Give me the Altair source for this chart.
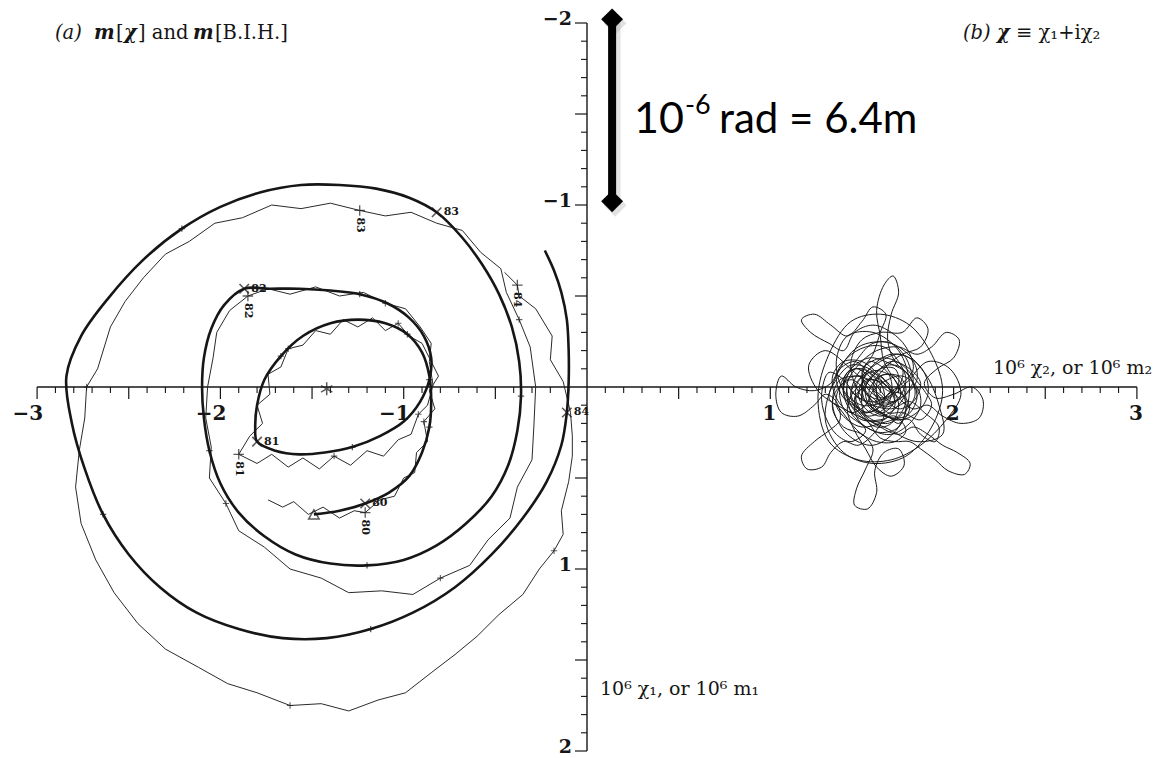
import altair as alt
import pandas as pd

INK = "#161616"

# ---------------------------------------------------------------- data
# m[chi]: heavy track, (10^6 m2, 10^6 m1) pairs in drawing order
thick_track = [
    (-1.49, 0.70), (-1.35, 0.68), (-1.21, 0.64), (-1.08, 0.58), (-0.97, 0.49),
    (-0.90, 0.36), (-0.86, 0.22), (-0.85, 0.08), (-0.86, -0.06), (-0.90, -0.19),
    (-0.98, -0.29), (-1.10, -0.35), (-1.25, -0.37), (-1.40, -0.35), (-1.55, -0.28),
    (-1.67, -0.17), (-1.76, -0.04), (-1.80, 0.10), (-1.81, 0.22), (-1.80, 0.30),
    (-1.70, 0.35), (-1.57, 0.37), (-1.43, 0.36), (-1.28, 0.33), (-1.13, 0.27),
    (-1.00, 0.19), (-0.91, 0.08), (-0.86, -0.04), (-0.85, -0.16), (-0.89, -0.28),
    (-0.97, -0.38), (-1.09, -0.46), (-1.24, -0.51), (-1.40, -0.53), (-1.57, -0.54),
    (-1.73, -0.54), (-1.87, -0.54), (-1.98, -0.45), (-2.05, -0.32), (-2.09, -0.16),
    (-2.10, 0.00), (-2.09, 0.17), (-2.06, 0.35), (-2.00, 0.53), (-1.90, 0.69),
    (-1.76, 0.82), (-1.59, 0.92), (-1.40, 0.97), (-1.20, 0.98), (-1.00, 0.95),
    (-0.82, 0.87), (-0.66, 0.75), (-0.52, 0.60), (-0.43, 0.43), (-0.38, 0.24),
    (-0.36, 0.05), (-0.37, -0.14), (-0.41, -0.33), (-0.48, -0.51), (-0.57, -0.67),
    (-0.68, -0.82), (-0.82, -0.96), (-0.97, -1.04), (-1.15, -1.09), (-1.35, -1.11),
    (-1.56, -1.11), (-1.78, -1.07), (-2.00, -0.99), (-2.21, -0.87), (-2.42, -0.70),
    (-2.61, -0.49), (-2.76, -0.28), (-2.84, -0.06), (-2.81, 0.20), (-2.74, 0.45),
    (-2.64, 0.70), (-2.50, 0.92), (-2.33, 1.10), (-2.13, 1.24), (-1.90, 1.33),
    (-1.66, 1.38), (-1.42, 1.38), (-1.18, 1.33), (-0.95, 1.24), (-0.72, 1.10),
    (-0.52, 0.92), (-0.35, 0.72), (-0.22, 0.52), (-0.14, 0.32), (-0.11, 0.14),
    (-0.10, -0.03), (-0.10, -0.20), (-0.11, -0.37), (-0.14, -0.52), (-0.18, -0.64),
    (-0.23, -0.75),
]

# m[B.I.H.]: light track
thin_track = [
    (-1.74, 0.62), (-1.66, 0.66), (-1.60, 0.63), (-1.52, 0.70), (-1.44, 0.66),
    (-1.35, 0.72), (-1.27, 0.68), (-1.21, 0.69), (-1.13, 0.62), (-1.05, 0.60),
    (-1.00, 0.50), (-0.94, 0.47), (-0.93, 0.36), (-0.87, 0.30), (-0.89, 0.19),
    (-0.83, 0.12), (-0.86, 0.02), (-0.81, -0.06), (-0.86, -0.16), (-0.90, -0.24),
    (-0.97, -0.28), (-1.03, -0.35), (-1.10, -0.31), (-1.17, -0.38), (-1.25, -0.33),
    (-1.33, -0.37), (-1.40, -0.29), (-1.48, -0.31), (-1.55, -0.23), (-1.63, -0.21),
    (-1.67, -0.11), (-1.74, -0.07), (-1.73, 0.04), (-1.80, 0.10), (-1.77, 0.20),
    (-1.84, 0.27), (-1.90, 0.37), (-1.80, 0.42), (-1.72, 0.37), (-1.63, 0.44),
    (-1.55, 0.39), (-1.46, 0.45), (-1.38, 0.38), (-1.29, 0.43), (-1.20, 0.35),
    (-1.11, 0.38), (-1.03, 0.29), (-0.96, 0.26), (-0.92, 0.15), (-0.87, 0.10),
    (-0.84, -0.01), (-0.86, -0.14), (-0.85, -0.24), (-0.91, -0.33), (-0.99, -0.43),
    (-1.10, -0.46), (-1.22, -0.52), (-1.35, -0.50), (-1.48, -0.55), (-1.62, -0.51),
    (-1.74, -0.54), (-1.85, -0.50), (-1.95, -0.42), (-2.02, -0.30), (-2.04, -0.16),
    (-2.07, 0.00), (-2.08, 0.17), (-2.05, 0.33), (-2.06, 0.50), (-1.97, 0.64),
    (-1.90, 0.79), (-1.76, 0.88), (-1.62, 1.00), (-1.45, 1.05), (-1.30, 1.13),
    (-1.12, 1.12), (-0.95, 1.14), (-0.80, 1.05), (-0.64, 0.98), (-0.54, 0.84),
    (-0.42, 0.72), (-0.38, 0.55), (-0.30, 0.40), (-0.29, 0.22), (-0.28, 0.00),
    (-0.31, -0.22), (-0.37, -0.37), (-0.44, -0.52), (-0.47, -0.65), (-0.58, -0.74),
    (-0.68, -0.86), (-0.82, -0.90), (-0.96, -0.96), (-1.10, -0.94), (-1.24, -0.97),
    (-1.40, -1.01), (-1.56, -0.98), (-1.72, -1.00), (-1.88, -0.93), (-2.03, -0.90),
    (-2.17, -0.80), (-2.30, -0.73), (-2.42, -0.60), (-2.52, -0.47), (-2.60, -0.33),
    (-2.67, -0.10), (-2.73, 0.00), (-2.74, 0.17), (-2.77, 0.35), (-2.79, 0.55),
    (-2.76, 0.75), (-2.68, 0.95), (-2.58, 1.13), (-2.45, 1.30), (-2.30, 1.44),
    (-2.12, 1.54), (-1.96, 1.63), (-1.80, 1.68), (-1.62, 1.75), (-1.45, 1.74),
    (-1.30, 1.78), (-1.14, 1.72), (-0.99, 1.68), (-0.85, 1.57), (-0.72, 1.47),
    (-0.60, 1.37), (-0.48, 1.25), (-0.35, 1.14), (-0.26, 1.00), (-0.18, 0.90),
    (-0.13, 0.81), (-0.14, 0.68), (-0.10, 0.52), (-0.08, 0.38), (-0.08, 0.27),
    (-0.09, 0.14), (-0.13, -0.03), (-0.20, -0.15), (-0.19, -0.28), (-0.28, -0.43),
    (-0.37, -0.50), (-0.38, -0.56), (-0.45, -0.63),
]

# positions (indices into the tracks) of the start of each year
year_labels = ["80", "81", "82", "83", "84"]
thick_year_idx = [2, 19, 36, 61, 89]
thin_year_idx = [7, 36, 61, 94, 141]

# chi = chi1 + i chi2, excitation function (chi2, chi1) in drawing order
chi_track = [
    (1.55, 0.05), (1.63, 0.11), (1.71, 0.05), (1.67, -0.05), (1.57, -0.09),
    (1.48, -0.03), (1.47, 0.08), (1.54, 0.17), (1.64, 0.20), (1.73, 0.14),
    (1.79, 0.04), (1.75, -0.07), (1.65, -0.13), (1.54, -0.16), (1.44, -0.10),
    (1.38, 0.00), (1.40, 0.12), (1.49, 0.20), (1.60, 0.25), (1.70, 0.22),
    (1.74, 0.10), (1.69, -0.02), (1.62, -0.14), (1.60, -0.28), (1.58, -0.42),
    (1.62, -0.56), (1.67, -0.61), (1.70, -0.52), (1.66, -0.40), (1.64, -0.26),
    (1.68, -0.14), (1.76, -0.06), (1.80, 0.06), (1.74, 0.16), (1.62, 0.16),
    (1.53, 0.10), (1.50, -0.02), (1.56, -0.12), (1.66, -0.18), (1.76, -0.16),
    (1.84, -0.08), (1.86, 0.04), (1.80, 0.14), (1.70, 0.18), (1.58, 0.12),
    (1.52, 0.02), (1.44, -0.04), (1.36, 0.02), (1.34, 0.12), (1.40, 0.22),
    (1.50, 0.26), (1.56, 0.34), (1.52, 0.45), (1.47, 0.56), (1.46, 0.65),
    (1.53, 0.67), (1.58, 0.58), (1.57, 0.46), (1.62, 0.36), (1.70, 0.34),
    (1.73, 0.43), (1.66, 0.49), (1.58, 0.44), (1.52, 0.34), (1.46, 0.24),
    (1.42, 0.12), (1.46, 0.02), (1.55, -0.04), (1.64, 0.00), (1.68, 0.10),
    (1.62, 0.18), (1.52, 0.18), (1.44, 0.10), (1.42, -0.02), (1.48, -0.12),
    (1.58, -0.20), (1.70, -0.22), (1.80, -0.18), (1.88, -0.22), (1.96, -0.30),
    (2.03, -0.26), (2.00, -0.16), (1.91, -0.10), (1.84, -0.02), (1.90, 0.06),
    (2.00, 0.04), (2.10, 0.00), (2.16, 0.07), (2.14, 0.17), (2.04, 0.20),
    (1.94, 0.16), (1.86, 0.10), (1.78, 0.12), (1.70, 0.06), (1.62, -0.02),
    (1.54, -0.08), (1.46, -0.14), (1.38, -0.10), (1.33, -0.02), (1.24, 0.02),
    (1.14, 0.00), (1.06, -0.06), (1.03, 0.04), (1.06, 0.14), (1.15, 0.16),
    (1.24, 0.10), (1.30, 0.04), (1.36, 0.08), (1.38, 0.18), (1.32, 0.24),
    (1.24, 0.30), (1.17, 0.38), (1.20, 0.45), (1.28, 0.44), (1.33, 0.36),
    (1.40, 0.30), (1.48, 0.32), (1.56, 0.26), (1.62, 0.16), (1.60, 0.06),
    (1.52, 0.00), (1.46, 0.06), (1.50, 0.14), (1.58, 0.12), (1.64, 0.04),
    (1.72, -0.02), (1.78, -0.10), (1.74, -0.22), (1.66, -0.30), (1.56, -0.34),
    (1.46, -0.30), (1.40, -0.20), (1.32, -0.24), (1.22, -0.30), (1.17, -0.37),
    (1.24, -0.40), (1.33, -0.34), (1.42, -0.28), (1.50, -0.36), (1.56, -0.44),
    (1.63, -0.40), (1.60, -0.30), (1.56, -0.18), (1.50, -0.08), (1.54, 0.02),
    (1.62, 0.06), (1.70, 0.00), (1.72, -0.10), (1.64, -0.12), (1.56, -0.06),
    (1.50, 0.04), (1.52, 0.16), (1.60, 0.22), (1.70, 0.26), (1.78, 0.22),
    (1.86, 0.26), (1.94, 0.32), (2.02, 0.36), (2.09, 0.42), (2.06, 0.48),
    (1.97, 0.46), (1.90, 0.40), (1.82, 0.34), (1.76, 0.30), (1.68, 0.30),
    (1.60, 0.28), (1.54, 0.20), (1.48, 0.12), (1.40, 0.06), (1.36, -0.06),
    (1.42, -0.16), (1.52, -0.22), (1.62, -0.22), (1.70, -0.14), (1.74, -0.04),
    (1.70, 0.06), (1.62, 0.10), (1.54, 0.06), (1.50, -0.04), (1.54, -0.14),
    (1.64, -0.08), (1.66, 0.02), (1.58, 0.08), (1.48, 0.06), (1.42, 0.00),
    (1.44, 0.14), (1.52, 0.24), (1.44, 0.30), (1.36, 0.26), (1.30, 0.16),
    (1.28, 0.04), (1.32, -0.08), (1.40, -0.04), (1.46, 0.04), (1.56, 0.10),
    (1.66, 0.12), (1.76, 0.08), (1.84, 0.14), (1.92, 0.22), (1.90, 0.30),
    (1.82, 0.26), (1.76, 0.18), (1.68, 0.18), (1.60, 0.14), (1.52, 0.08),
    (1.46, -0.02), (1.44, -0.14), (1.50, -0.26), (1.60, -0.30), (1.72, -0.30),
    (1.80, -0.38), (1.86, -0.32), (1.82, -0.22), (1.72, -0.18), (1.62, -0.10),
    (1.56, 0.00), (1.60, 0.08), (1.68, 0.08), (1.74, 0.02), (1.70, -0.06),
    (1.60, -0.06), (1.54, 0.02), (1.56, 0.12), (1.64, 0.16), (1.70, 0.20),
    (1.76, 0.12), (1.72, 0.04), (1.64, 0.02), (1.58, -0.04), (1.50, -0.10),
    (1.42, -0.08), (1.40, 0.02), (1.46, 0.10), (1.54, 0.14), (1.62, 0.08),
    (1.60, -0.02), (1.52, -0.04), (1.48, 0.04), (1.52, 0.12), (1.60, 0.16),
    (1.68, 0.12), (1.74, 0.04), (1.78, -0.04), (1.72, -0.12), (1.62, -0.16),
    (1.52, -0.12), (1.46, -0.04), (1.44, 0.06), (1.50, 0.16), (1.58, 0.22),
    (1.66, 0.20), (1.70, 0.10), (1.66, 0.00), (1.58, -0.08), (1.50, -0.14),
    (1.40, -0.14), (1.34, -0.06), (1.36, 0.06), (1.44, 0.14), (1.52, 0.10),
    (1.56, 0.02), (1.64, -0.04), (1.72, -0.06), (1.80, 0.00), (1.82, 0.10),
    (1.76, 0.20), (1.66, 0.26), (1.56, 0.24), (1.48, 0.18), (1.46, 0.08),
    (1.52, -0.02), (1.60, -0.10), (1.68, -0.10), (1.70, -0.02), (1.64, 0.06),
    (1.56, 0.06), (1.50, 0.00), (1.54, -0.08), (1.62, -0.04), (1.66, 0.04),
    (1.62, 0.12), (1.54, 0.16), (1.46, 0.12), (1.40, 0.04), (1.42, -0.06),
    (1.48, -0.16), (1.56, -0.24), (1.66, -0.24), (1.74, -0.16), (1.78, -0.06),
    (1.84, 0.02), (1.88, 0.10), (1.82, 0.18), (1.72, 0.14), (1.64, 0.14),
    (1.58, 0.04), (1.60, -0.06), (1.68, -0.06), (1.74, 0.06), (1.70, 0.16),
    (1.60, 0.20), (1.50, 0.22), (1.42, 0.18), (1.36, 0.10), (1.38, 0.00),
    (1.46, -0.06), (1.56, -0.02), (1.58, 0.08), (1.52, 0.14), (1.44, 0.04),
    (1.50, -0.06), (1.60, -0.14), (1.70, -0.18), (1.78, -0.14), (1.80, -0.04),
    (1.74, 0.04), (1.66, 0.08), (1.60, 0.02), (1.54, -0.06), (1.46, -0.10),
    (1.40, -0.02), (1.42, 0.10), (1.50, 0.18), (1.60, 0.18), (1.68, 0.16),
    (1.74, 0.24), (1.68, 0.30), (1.58, 0.30), (1.50, 0.26), (1.44, 0.20),
    (1.38, 0.12), (1.32, 0.06), (1.36, -0.04), (1.44, -0.12), (1.54, -0.10),
    (1.62, -0.02), (1.68, 0.06), (1.62, 0.14), (1.54, 0.10), (1.52, 0.00),
    (1.58, -0.08), (1.66, -0.14), (1.76, -0.10), (1.82, -0.02), (1.78, 0.08),
    (1.70, 0.12), (1.62, 0.06), (1.46, -0.08), (1.30, -0.20), (1.21, -0.12),
    (1.26, 0.02), (1.40, 0.12), (1.62, 0.22), (1.80, 0.30), (1.94, 0.26),
    (1.92, 0.10), (1.84, -0.08), (1.66, -0.24), (1.48, -0.22), (1.36, -0.06),
    (1.30, 0.18), (1.40, 0.36), (1.56, 0.42), (1.74, 0.38), (1.88, 0.22),
    (1.94, 0.02), (1.88, -0.18), (1.76, -0.34), (1.60, -0.40), (1.44, -0.36),
    (1.32, -0.18), (1.26, 0.06), (1.32, 0.30), (1.48, 0.40), (1.66, 0.40),
    (1.82, 0.32), (1.96, 0.18), (2.04, 0.04), (1.98, -0.10), (1.86, -0.14),
    (1.74, -0.02), (1.62, 0.08), (1.50, 0.10), (1.40, 0.02), (1.36, -0.14),
    (1.42, -0.28), (1.56, -0.30), (1.70, -0.20), (1.76, 0.00), (1.70, 0.22),
    (1.56, 0.32), (1.42, 0.26), (1.34, 0.10), (1.38, -0.04), (1.52, -0.06),
]

x_tick_values = [-3, -2, -1, 1, 2, 3]
x_tick_labels = ["\u22123", "\u22122", "\u22121", "1", "2", "3"]
y_tick_values = [-2, -1, 1, 2]
y_tick_labels = ["\u22122", "\u22121", "1", "2"]

mean_pole = (-1.42, 0.01)
track_start = (-1.49, 0.70)
scale_bar_x = 0.137
scale_bar_y = [-2.02, -1.02]

# ---------------------------------------------------------------- scales
W, H = 1164, 758
OX, OY = 587, 387          # pixel position of the origin
UX, UY = 183.3, 182.0      # pixels per unit

x_scale = alt.Scale(domain=[-OX / UX, (W - OX) / UX], nice=False, zero=False)
y_scale = alt.Scale(domain=[-OY / UY, (H - OY) / UY], nice=False, zero=False, reverse=True)


def xq(field):
    return alt.X(field, type="quantitative", scale=x_scale, axis=None)


def yq(field):
    return alt.Y(field, type="quantitative", scale=y_scale, axis=None)


def track_frame(track):
    return pd.DataFrame({"x": [p[0] for p in track], "y": [p[1] for p in track],
                         "i": list(range(len(track)))})


def quarter_marks(track, idx):
    pts = []
    for a, b in zip(idx[:-1], idx[1:]):
        for j in (1, 2, 3):
            pts.append(track[a + round(j * (b - a) / 4)])
    return pd.DataFrame({"x": [p[0] for p in pts], "y": [p[1] for p in pts]})


def year_frame(track, idx):
    return pd.DataFrame({"x": [track[k][0] for k in idx], "y": [track[k][1] for k in idx],
                         "lab": year_labels})


PLUS = "M-1,0L1,0M0,-1L0,1"
CROSS = "M-1,-1L1,1M-1,1L1,-1"
STAR = "M0,-1L0,1M-0.866,-0.5L0.866,0.5M-0.866,0.5L0.866,-0.5"
SERIF = "DejaVu Serif"

layers = []

# ---------------------------------------------------------------- axes
axis_lines = pd.DataFrame({"x1": [-3, 0], "x2": [3, 0], "y1": [0, -2], "y2": [0, 2]})
layers.append(alt.Chart(axis_lines).mark_rule(color=INK, strokeWidth=1.4).encode(
    x=xq("x1"), x2="x2", y=yq("y1"), y2="y2"))

x_ticks = [v / 10 for v in range(-30, 31) if v != 0]
y_ticks = [v / 10 for v in range(-20, 21) if v != 0]
xt = pd.DataFrame({"v": x_ticks, "z": 0.0, "major": [abs(v * 2 - round(v * 2)) < 1e-9 for v in x_ticks]})
yt = pd.DataFrame({"v": y_ticks, "z": 0.0, "major": [abs(v * 2 - round(v * 2)) < 1e-9 for v in y_ticks]})

layers.append(alt.Chart(xt[~xt.major]).mark_rule(color=INK, strokeWidth=1.1, y2Offset=6).encode(
    x=xq("v"), y=yq("z"), y2="z"))
layers.append(alt.Chart(xt[xt.major]).mark_rule(color=INK, strokeWidth=1.2, y2Offset=12).encode(
    x=xq("v"), y=yq("z"), y2="z"))
layers.append(alt.Chart(yt[~yt.major]).mark_rule(color=INK, strokeWidth=1.1, x2Offset=-6).encode(
    y=yq("v"), x=xq("z"), x2="z"))
layers.append(alt.Chart(yt[yt.major]).mark_rule(color=INK, strokeWidth=1.2, x2Offset=-12).encode(
    y=yq("v"), x=xq("z"), x2="z"))

xl = pd.DataFrame({"v": x_tick_values, "z": 0.0, "t": x_tick_labels})
layers.append(alt.Chart(xl).mark_text(font=SERIF, fontSize=20, fontWeight="bold", align="right",
                                      baseline="middle", dx=6, dy=27, color=INK).encode(
    x=xq("v"), y=yq("z"), text="t:N"))
yl = pd.DataFrame({"v": y_tick_values, "z": 0.0, "t": y_tick_labels})
layers.append(alt.Chart(yl).mark_text(font=SERIF, fontSize=19, fontWeight="bold", align="right",
                                      baseline="middle", dx=-15, dy=-4, color=INK).encode(
    x=xq("z"), y=yq("v"), text="t:N"))

# ---------------------------------------------------------------- tracks
layers.append(alt.Chart(track_frame(thin_track)).mark_line(color="#2a2a2a", strokeWidth=1.0).encode(
    x=xq("x"), y=yq("y"), order="i:Q"))
layers.append(alt.Chart(track_frame(thick_track)).mark_line(
    color=INK, strokeWidth=2.6, interpolate="catmull-rom").encode(
    x=xq("x"), y=yq("y"), order="i:Q"))
layers.append(alt.Chart(track_frame(chi_track)).mark_line(
    color="#1a1a1a", strokeWidth=1.0, interpolate="catmull-rom").encode(
    x=xq("x"), y=yq("y"), order="i:Q"))

# quarter-year marks
layers.append(alt.Chart(quarter_marks(thick_track, thick_year_idx)).mark_point(
    shape=PLUS, size=40, filled=False, color=INK, strokeWidth=1.3).encode(x=xq("x"), y=yq("y")))
layers.append(alt.Chart(quarter_marks(thin_track, thin_year_idx)).mark_point(
    shape=PLUS, size=40, filled=False, color=INK, strokeWidth=1.1).encode(x=xq("x"), y=yq("y")))

# year marks and labels
thick_years = year_frame(thick_track, thick_year_idx)
thin_years = year_frame(thin_track, thin_year_idx)
layers.append(alt.Chart(thick_years).mark_point(shape=CROSS, size=90, filled=False, color=INK,
                                                strokeWidth=1.6).encode(x=xq("x"), y=yq("y")))
layers.append(alt.Chart(thin_years).mark_point(shape=PLUS, size=110, filled=False, color=INK,
                                               strokeWidth=1.3).encode(x=xq("x"), y=yq("y")))
layers.append(alt.Chart(thick_years).mark_text(font=SERIF, fontSize=11, fontWeight="bold", align="left",
                                               baseline="middle", dx=7, color=INK).encode(
    x=xq("x"), y=yq("y"), text="lab:N"))
layers.append(alt.Chart(thin_years).mark_text(font=SERIF, fontSize=11, fontWeight="bold", align="left",
                                              baseline="middle", angle=90, dx=7, color=INK).encode(
    x=xq("x"), y=yq("y"), text="lab:N"))

# mean pole and starting point
layers.append(alt.Chart(pd.DataFrame({"x": [mean_pole[0]], "y": [mean_pole[1]]})).mark_point(
    shape=STAR, size=170, filled=False, color=INK, strokeWidth=1.5).encode(x=xq("x"), y=yq("y")))
layers.append(alt.Chart(pd.DataFrame({"x": [track_start[0]], "y": [track_start[1]]})).mark_point(
    shape="triangle-up", size=110, filled=False, color=INK, strokeWidth=1.5).encode(x=xq("x"), y=yq("y")))

# ---------------------------------------------------------------- scale bar
bar = pd.DataFrame({"x": [scale_bar_x], "y1": [scale_bar_y[0]], "y2": [scale_bar_y[1]]})
ends = pd.DataFrame({"x": [scale_bar_x] * 2, "y": scale_bar_y})
layers.append(alt.Chart(bar).mark_rule(color="#a0a0a0", opacity=0.3, strokeWidth=11,
                                       xOffset=3, yOffset=4, x2Offset=3, y2Offset=4).encode(
    x=xq("x"), y=yq("y1"), y2="y2"))
layers.append(alt.Chart(ends).mark_point(shape="diamond", size=520, filled=True, color="#a0a0a0",
                                         opacity=0.3, xOffset=3, yOffset=4).encode(x=xq("x"), y=yq("y")))
layers.append(alt.Chart(bar).mark_rule(color="#000000", strokeWidth=8).encode(
    x=xq("x"), y=yq("y1"), y2="y2"))
layers.append(alt.Chart(ends).mark_point(shape="diamond", size=480, filled=True, color="#000000",
                                         opacity=1).encode(x=xq("x"), y=yq("y")))


def label(text, px, py, **kw):
    opts = dict(align="left", baseline="alphabetic", color=INK)
    opts.update(kw)
    return alt.Chart(pd.DataFrame({"t": [text]})).mark_text(**opts).encode(
        x=alt.value(px), y=alt.value(py), text="t:N")


SANS = "Lato"
layers.append(label("10", 634, 133, font=SANS, fontSize=43, color="#000000"))
layers.append(label("-6", 685, 114, font=SANS, fontSize=27, color="#000000"))
layers.append(label("rad = 6.4m", 719, 133, font=SANS, fontSize=42, color="#000000"))

# ---------------------------------------------------------------- titles
TS = 19.5
layers.append(label("(a)", 55, 39, font=SERIF, fontSize=TS, fontStyle="italic"))
layers.append(label("m", 94, 39, font=SERIF, fontSize=TS, fontStyle="italic", fontWeight="bold"))
layers.append(label("[", 116, 39, font=SERIF, fontSize=TS))
layers.append(label("\u03c7", 124, 39, font=SERIF, fontSize=TS, fontStyle="italic", fontWeight="bold"))
layers.append(label("] and", 138, 39, font=SERIF, fontSize=TS))
layers.append(label("m", 193, 39, font=SERIF, fontSize=TS, fontStyle="italic", fontWeight="bold"))
layers.append(label("[B.I.H.]", 215, 39, font=SERIF, fontSize=TS))

layers.append(label("(b)", 963, 39, font=SERIF, fontSize=TS, fontStyle="italic"))
layers.append(label("\u03c7", 997, 39, font=SERIF, fontSize=TS, fontStyle="italic", fontWeight="bold"))
layers.append(label("\u2261 \u03c7\u2081+i\u03c7\u2082", 1016, 39, font=SERIF, fontSize=TS))

layers.append(label("10\u2076 \u03c7\u2082, or 10\u2076 m\u2082", 993, 374, font=SERIF, fontSize=19))
layers.append(label("10\u2076 \u03c7\u2081, or 10\u2076 m\u2081", 600, 695, font=SERIF, fontSize=19))

chart = alt.layer(*layers).properties(
    width=W, height=H, padding=0,
    autosize=alt.AutoSizeParams(type="none"),
    background="white",
).configure_view(stroke=None)

chart.save("out.html", embed_options={"renderer": "svg", "actions": False})
